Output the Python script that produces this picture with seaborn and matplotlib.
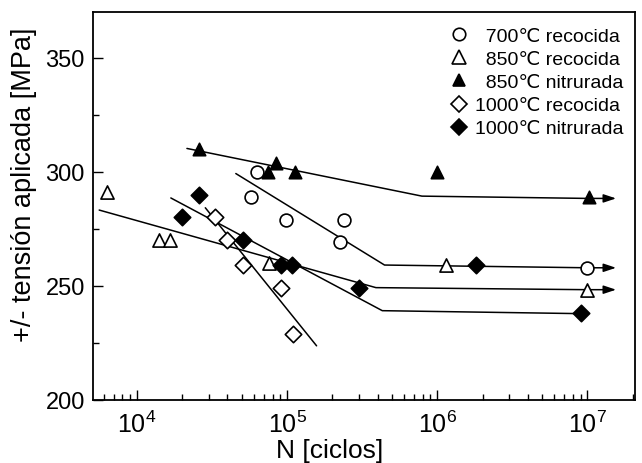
import matplotlib
matplotlib.use("Agg")
import matplotlib.pyplot as plt
from matplotlib.ticker import LogLocator, MultipleLocator, NullFormatter, FixedLocator
from matplotlib.lines import Line2D
import seaborn as sns

# ---- data ----
labels = ["  700\u2103 recocida", "  850\u2103 recocida", "  850\u2103 nitrurada",
          "1000\u2103 recocida", "1000\u2103 nitrurada"]

n700 = [6.3e4, 5.7e4, 9.8e4, 2.4e5, 2.25e5, 1.0e7]
s700 = [300, 289, 279, 279, 269, 258]

n850r = [6.3e3, 1.4e4, 1.65e4, 7.6e4, 1.15e6, 1.0e7]
s850r = [291, 270, 270, 260, 259, 248]

n850n = [2.6e4, 8.4e4, 7.5e4, 1.12e5, 1.0e6, 1.03e7]
s850n = [310, 304, 300, 300, 300, 289]

n1000r = [3.3e4, 4.0e4, 5.1e4, 9.1e4, 1.1e5]
s1000r = [280, 270, 259, 249, 229]

n1000n = [2.6e4, 2.0e4, 5.1e4, 9.1e4, 1.07e5, 3.0e5, 1.8e6, 9.0e6]
s1000n = [290, 280, 270, 259, 259, 249, 259, 238]

# fitted trend lines (knots)
lineA_n = [2.15e4, 7.9e5, 1.0e7]
lineA_s = [310.2, 289.3, 288.3]
lineB_n = [4.55e4, 4.45e5, 1.0e7]
lineB_s = [299.2, 259.1, 257.9]
lineC_n = [5.6e3, 3.9e5, 1.0e7]
lineC_s = [283.2, 249.2, 248.3]
lineD_n = [1.68e4, 4.3e5, 9.0e6]
lineD_s = [288.5, 239.1, 237.8]
lineE_n = [2.85e4, 1.57e5]
lineE_s = [284.2, 223.7]
arrow_tip_n = 1.55e7

xticks = [1e4, 1e5, 1e6, 1e7]
xticklabels = [r"$10^{4}$", r"$10^{5}$", r"$10^{6}$", r"$10^{7}$"]
yticks = [200, 250, 300, 350]

sns.set_style("ticks")
plt.rcParams["font.family"] = ["Liberation Sans", "DejaVu Sans"]
plt.rcParams["mathtext.fontset"] = "custom"
plt.rcParams["mathtext.rm"] = "Liberation Sans"
plt.rcParams["mathtext.it"] = "Liberation Sans"
plt.rcParams["text.color"] = "black"
plt.rcParams["axes.labelcolor"] = "black"
plt.rcParams["xtick.color"] = "black"
plt.rcParams["ytick.color"] = "black"
plt.rcParams["xtick.labelcolor"] = "black"
plt.rcParams["ytick.labelcolor"] = "black"

fig = plt.figure(figsize=(6.42, 4.64), dpi=100)
ax = fig.add_axes([0.145, 0.136, 0.844, 0.836])
ax.set_xscale("log")

lw_line = 1.1
for ln, ls_ in [(lineA_n, lineA_s), (lineB_n, lineB_s), (lineC_n, lineC_s),
                (lineD_n, lineD_s), (lineE_n, lineE_s)]:
    sns.lineplot(x=ln, y=ls_, ax=ax, color="black", lw=lw_line, sort=False,
                 estimator=None, zorder=2)

for ln, ls_ in [(lineA_n, lineA_s), (lineB_n, lineB_s), (lineC_n, lineC_s)]:
    ax.annotate("", xy=(arrow_tip_n, ls_[-1]), xytext=(ln[-1], ls_[-1]),
                arrowprops=dict(arrowstyle="-|>,head_length=0.75,head_width=0.25",
                                color="black", lw=lw_line, shrinkA=0, shrinkB=0),
                zorder=2)

mew = 1.2
sns.scatterplot(x=n700, y=s700, ax=ax, marker="o", s=85, facecolor="white",
                edgecolor="black", linewidth=mew, zorder=3)
sns.scatterplot(x=n850r, y=s850r, ax=ax, marker="^", s=90, facecolor="white",
                edgecolor="black", linewidth=mew, zorder=3)
sns.scatterplot(x=n850n, y=s850n, ax=ax, marker="^", s=80, facecolor="black",
                edgecolor="black", linewidth=mew, zorder=3)
sns.scatterplot(x=n1000r, y=s1000r, ax=ax, marker="D", s=70, facecolor="white",
                edgecolor="black", linewidth=mew, zorder=3)
sns.scatterplot(x=n1000n, y=s1000n, ax=ax, marker="D", s=70, facecolor="black",
                edgecolor="black", linewidth=mew, zorder=3)

ax.set_xlim(5.1e3, 2.07e7)
ax.set_ylim(200, 370)

ax.xaxis.set_major_locator(FixedLocator(xticks))
ax.set_xticklabels(xticklabels)
ax.xaxis.set_minor_locator(LogLocator(base=10, subs=range(2, 10), numticks=20))
ax.xaxis.set_minor_formatter(NullFormatter())
ax.yaxis.set_major_locator(FixedLocator(yticks))
ax.yaxis.set_minor_locator(MultipleLocator(25))

ax.tick_params(axis="both", which="major", direction="in", length=7, width=1.0,
               color="black", labelcolor="black", labelsize=17, pad=6,
               top=False, right=False)
ax.tick_params(axis="both", which="minor", direction="in", length=4, width=1.0,
               color="black", top=False, right=False)
ax.tick_params(axis="x", which="major", labelsize=18, pad=8)

for sp in ax.spines.values():
    sp.set_visible(True)
    sp.set_linewidth(1.3)
    sp.set_color("black")

ax.set_xlabel("N [ciclos]", fontsize=19, color="black")
ax.xaxis.set_label_coords(0.437, -0.097)
ax.set_ylabel("+/- tensi\u00f3n aplicada [MPa]", fontsize=19.5, color="black")
ax.yaxis.set_label_coords(-0.104, 0.557)

handles = [
    Line2D([], [], ls="none", marker="o", ms=9, mfc="white", mec="black", mew=mew),
    Line2D([], [], ls="none", marker="^", ms=9.5, mfc="white", mec="black", mew=mew),
    Line2D([], [], ls="none", marker="^", ms=9, mfc="black", mec="black", mew=mew),
    Line2D([], [], ls="none", marker="D", ms=8, mfc="white", mec="black", mew=mew),
    Line2D([], [], ls="none", marker="D", ms=8, mfc="black", mec="black", mew=mew),
]
ax.legend(handles, labels, loc="upper right", frameon=False, fontsize=14,
          handlelength=1.0, handletextpad=0.3, labelspacing=0.28,
          borderaxespad=0.2, bbox_to_anchor=(1.0, 0.99), labelcolor="black")

fig.savefig("out.png", dpi=100)
